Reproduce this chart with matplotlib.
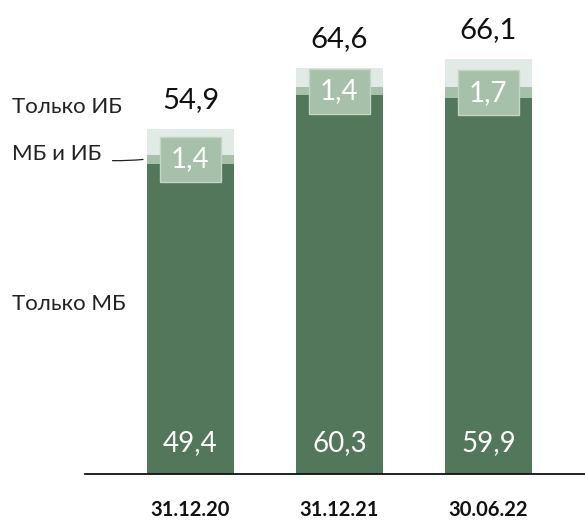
import numpy as np
import matplotlib.pyplot as plt
from matplotlib.patches import Rectangle
from matplotlib.transforms import blended_transform_factory

# ── data ────────────────────────────────────────────────────
dates = ["31.12.20", "31.12.21", "30.06.22"]
only_mb = [49.4, 60.3, 59.9]
mb_and_ib = [1.4, 1.4, 1.7]
totals = [54.9, 64.6, 66.1]
only_ib = [round(t - a - b, 1) for t, a, b in zip(totals, only_mb, mb_and_ib)]

series_names = ["Только МБ", "МБ и ИБ", "Только ИБ"]

C_DARK = "#53775b"
C_MID = "#a7c0aa"
C_LIGHT = "#e1eae5"


def fmt(v):
    return f"{v:.1f}".replace(".", ",")


plt.rcParams["font.family"] = ["Lato", "DejaVu Sans"]

fig = plt.figure(figsize=(5.85, 5.21), dpi=100)
ax = fig.add_axes([85 / 585, 47 / 521, 500 / 585, 474 / 521])

x = np.arange(len(dates))
w = 0.584

ax.bar(x, only_mb, w, color=C_DARK)
ax.bar(x, mb_and_ib, w, bottom=only_mb, color=C_MID)
bot2 = np.add(only_mb, mb_and_ib)
ax.bar(x, only_ib, w, bottom=bot2, color=C_LIGHT)

ax.set_xlim(-0.708, 2.648)
ax.set_ylim(0, 75.5)

# px -> data helpers
px_y = 75.5 / 474
px_x = 1 / 149

for i in range(len(dates)):
    # total on top
    ax.annotate(fmt(totals[i]), (x[i], totals[i]), xytext=(0, 21),
                textcoords="offset points", ha="center", va="center",
                fontsize=21, color="#111111")
    # only МБ value inside
    ax.annotate(fmt(only_mb[i]), (x[i], 0), xytext=(0, 22),
                textcoords="offset points", ha="center", va="center",
                fontsize=20, color="white")
    # МБ и ИБ value in a box
    yc = only_mb[i] + mb_and_ib[i] / 2
    bw, bh = 61 * px_x, 45 * px_y
    ax.add_patch(Rectangle((x[i] - bw / 2, yc - bh / 2), bw, bh,
                           facecolor=C_MID, edgecolor="#c4d4c6", lw=1, zorder=3))
    ax.text(x[i], yc, fmt(mb_and_ib[i]), ha="center", va="center",
            fontsize=20, color="white", zorder=4)

# series labels on the left
tr = blended_transform_factory(fig.transFigure, ax.transData)
ax.text(12 / 585, 58.5, series_names[2], transform=tr, ha="left", va="center",
        fontsize=16, color="#222222")
ax.text(12 / 585, 27.0, series_names[0], transform=tr, ha="left", va="center",
        fontsize=16, color="#222222")
ax.annotate(series_names[1], xy=(x[0] - w / 2 - 4 * px_x, only_mb[0] + mb_and_ib[0] / 2),
            xytext=(12 / 585, 51.0), textcoords=tr, ha="left", va="center",
            fontsize=16, color="#222222",
            arrowprops=dict(arrowstyle="-", color="#222222", lw=0.9,
                            shrinkA=6, shrinkB=0,
                            connectionstyle="arc3,rad=0.08"))

ax.set_xticks(x)
ax.set_xticklabels(dates, fontsize=14.5, fontweight="bold", color="#111111")
ax.tick_params(axis="x", length=0, pad=19)
ax.set_yticks([])
for s in ["top", "left", "right"]:
    ax.spines[s].set_visible(False)
ax.spines["bottom"].set_linewidth(1.3)
ax.spines["bottom"].set_color("#111111")

fig.savefig("out.png", dpi=100)
